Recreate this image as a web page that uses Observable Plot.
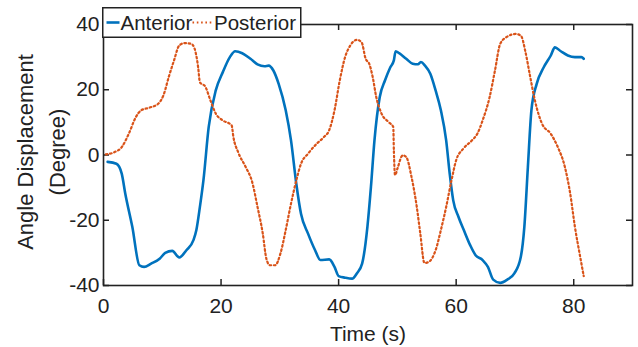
<!DOCTYPE html>
<html>
<head>
<meta charset="utf-8">
<script src="https://cdn.jsdelivr.net/npm/d3@7"></script>
<script src="https://cdn.jsdelivr.net/npm/@observablehq/plot@0.6"></script>
<style>
  html, body { margin: 0; padding: 0; background: #fff; }
  #wrap { position: relative; width: 638px; height: 347px; }
  #legend { position: absolute; left: 102px; top: 7px; }
  #legend text { font-family: "Liberation Sans", Arial, sans-serif; font-size: 20.5px; fill: #222; }
</style>
</head>
<body>
<div id="wrap"></div>
<script>
// ---- data ----
const seriesNames = ["Anterior", "Posterior"];
const anteriorTime = [0.7,2.2,3.1,3.7,4.9,6.1,6.9,8.1,9.6,10.5,11.7,12.9,14.1,15.3,15.8,16.4,17.0,17.9,19.1,20.3,21.5,22.4,23.6,25.0,26.2,27.4,28.1,28.9,29.8,31.0,31.9,32.8,33.6,34.8,36.0,36.9,38.4,39.3,40.0,41.1,42.3,43.1,44.0,44.9,45.5,46.1,47.0,47.9,48.8,49.4,49.7,50.3,51.5,52.6,53.5,54.0,54.7,55.6,56.5,57.4,58.3,58.9,59.5,60.4,61.3,62.4,63.3,64.5,65.4,66.3,67.5,68.7,69.9,71.0,71.6,72.2,72.8,73.7,74.9,76.1,76.8,77.8,79.0,80.2,81.3,81.7];
const anteriorAngle = [-2.1,-2.7,-5.7,-11.8,-22,-33.8,-34.3,-33.3,-31.7,-30,-29.4,-31.4,-29.2,-26.1,-23,-15.9,-7.8,8.6,19.8,25.4,30,31.8,31.2,29.5,27.8,27.2,27.4,25.9,21.8,13.7,4.5,-8.8,-18,-24.1,-29.2,-32.2,-32,-34.3,-37.1,-37.6,-37.9,-36.3,-33.3,-22,-9.8,4.5,17.8,22.9,26.9,29,31.8,31.2,29.5,28,27.8,28.5,27.4,24.9,19.8,13.7,4.5,-5.7,-13.9,-19,-23,-27.7,-30.7,-32.2,-34.3,-38.2,-39.2,-38.2,-36.3,-31.2,-22,-3.7,13.7,21.8,26.9,30.5,33,31.8,30.5,30,30,29.5];
const posteriorTime = [0.4,1.9,3.1,4.3,5.5,6.4,7.8,9.3,10.2,11.1,12.0,12.9,13.8,14.9,15.5,16.1,16.4,17.3,18.2,19.1,20.3,21.8,22.1,22.9,24.2,25.3,26.2,27.1,27.7,28.3,29.2,30.1,31.0,31.9,32.8,33.6,34.8,36.3,37.5,38.4,39.3,40.2,41.1,42.0,43.1,43.9,44.6,45.2,45.8,46.4,47.3,48.5,49.3,49.4,49.6,50.0,50.9,51.5,52.4,53.3,53.9,54.6,55.3,56.5,57.4,58.3,59.2,60.0,61.2,62.7,63.6,64.5,65.7,66.6,67.5,68.7,70.1,71.0,71.8,72.5,73.4,74.6,76.1,77.3,78.5,79.4,80.2,81.1,81.7];
const posteriorAngle = [0.2,0.9,2.4,6.5,11.6,13.7,14.5,15.7,18.3,23.9,29,33.6,34.3,34.1,32.6,26.9,22.3,21,16.7,12.7,10.6,9.1,5.5,0.9,-3.7,-8.3,-15.9,-24.1,-31.7,-33.8,-33.8,-30.2,-23,-14.9,-7.8,-2.7,0.4,3.5,5.5,7.6,13.7,22.9,30,33.6,35.3,34.6,29.5,28,23.9,17.8,12.7,10.1,8.6,1.4,-6.2,-4.2,-0.1,-0.6,-6.7,-15.9,-24.1,-33.1,-32.8,-29.2,-23,-15.9,-7.8,-1.6,1.9,4.5,6.5,10.6,17.8,25.9,34.1,36.3,37.1,36.6,31.5,24.9,16.7,9.6,6.5,2.4,-3.7,-11.8,-22,-31.2,-37.1];
const xTicks = [0, 20, 40, 60, 80];
const yTicks = [-40, -20, 0, 20, 40];
const xLabel = "Time (s)";
const yLabel = "Angle Displacement\n(Degree)";

const colors = ["#0072BD", "#D95319"];
const anterior = anteriorTime.map((t, i) => ({t, v: anteriorAngle[i]}));
const posterior = posteriorTime.map((t, i) => ({t, v: posteriorAngle[i]}));

const W = 638, H = 347, mL = 103, mR = 6, mT = 24, mB = 62;
const innerH = H - mT - mB, innerW = W - mL - mR;
const tk = 6;
const fmt = d => String(d);
const dots = "1.6,2.7";

const chart = Plot.plot({
  width: W, height: H,
  marginLeft: mL, marginRight: mR, marginTop: mT, marginBottom: mB,
  style: {fontFamily: "'Liberation Sans', Arial, sans-serif", fontSize: "21px", color: "#222", background: "#fff"},
  x: {domain: [0, 90]},
  y: {domain: [-40, 40]},
  marks: [
    Plot.axisX(xTicks, {tickSize: 0, tickPadding: 13, label: null, fontSize: 21, tickFormat: fmt}),
    Plot.axisY(yTicks, {tickSize: 0, tickPadding: 4, label: null, fontSize: 21, tickFormat: fmt}),
    Plot.tickX(xTicks, {x: d => d, insetTop: innerH - tk, stroke: "#222", strokeWidth: 1.5}),
    Plot.tickX(xTicks, {x: d => d, insetBottom: innerH - tk, stroke: "#222", strokeWidth: 1.5}),
    Plot.tickY(yTicks, {y: d => d, insetRight: innerW - tk, stroke: "#222", strokeWidth: 1.5}),
    Plot.tickY(yTicks, {y: d => d, insetLeft: innerW - tk, stroke: "#222", strokeWidth: 1.5}),
    Plot.line(anterior, {x: "t", y: "v", stroke: colors[0], strokeWidth: 2.6, curve: "monotone-x"}),
    Plot.line(posterior, {x: "t", y: "v", stroke: colors[1], strokeWidth: 2.2, strokeDasharray: dots, curve: "monotone-x"}),
    Plot.frame({stroke: "#222", strokeWidth: 1.6}),
    Plot.text([xLabel], {frameAnchor: "bottom", dy: 49, lineAnchor: "middle", textAnchor: "middle", fontSize: 21, fill: "#222"}),
    Plot.text([yLabel], {frameAnchor: "left", rotate: -90, dx: -65, dy: -3, lineAnchor: "middle", textAnchor: "middle", lineHeight: 1.45, fontSize: 22, fill: "#222"})
  ]
});
const wrap = document.getElementById("wrap");
wrap.appendChild(chart);

// legend box overlapping the top-left corner of the axes (as in the reference)
const lg = d3.select(wrap).append("svg").attr("id", "legend").attr("width", 200).attr("height", 32);
lg.append("rect").attr("x", 0.75).attr("y", 0.75).attr("width", 198).attr("height", 29.5)
  .attr("fill", "#fff").attr("stroke", "#222").attr("stroke-width", 1.5);
const items = [
  {x1: 4.5, x2: 17.5, tx: 18.5, dash: null, w: 2.6},
  {x1: 90.5, x2: 110.5, tx: 112, dash: dots, w: 2.2}
];
items.forEach((it, i) => {
  lg.append("line").attr("x1", it.x1).attr("x2", it.x2).attr("y1", 15.5).attr("y2", 15.5)
    .attr("stroke", colors[i]).attr("stroke-width", it.w).attr("stroke-dasharray", it.dash);
  lg.append("text").attr("x", it.tx).attr("y", 22.8).text(seriesNames[i]);
});
</script>
</body>
</html>
